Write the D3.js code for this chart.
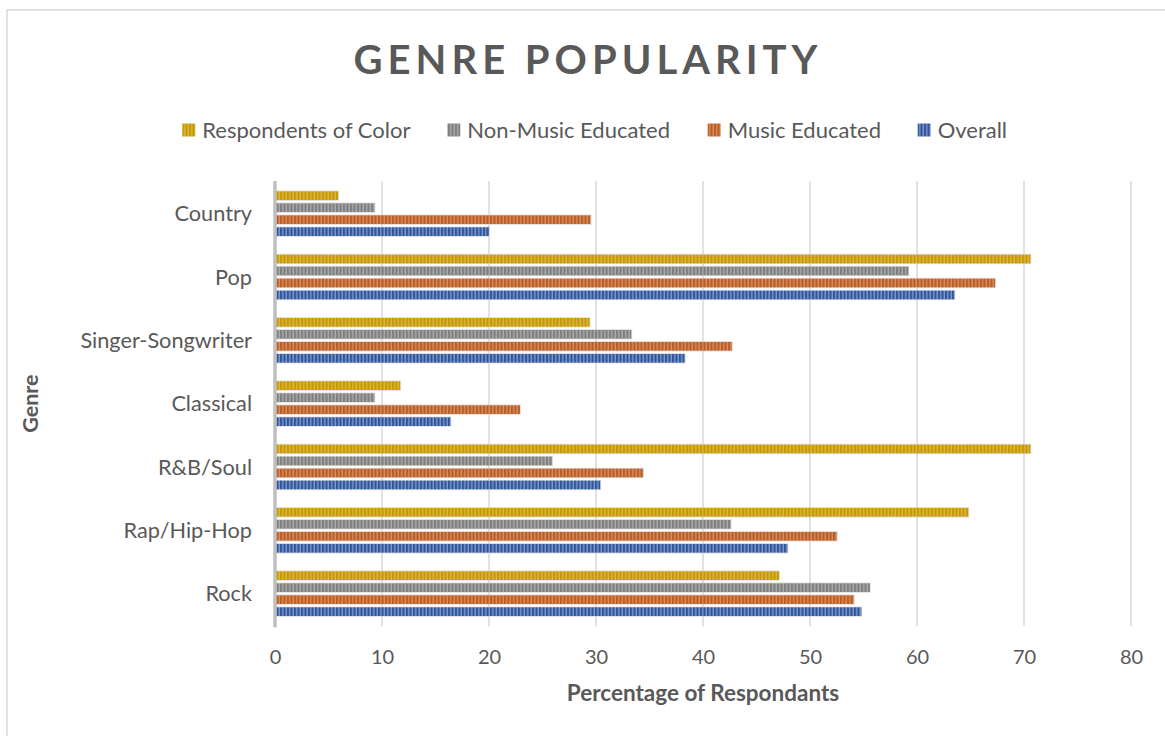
<!DOCTYPE html>
<html>
<head>
<meta charset="utf-8">
<script src="https://cdn.jsdelivr.net/npm/d3@7"></script>
<style>
  html, body { margin: 0; padding: 0; background: #fff; }
  svg { display: block; }
</style>
</head>
<body>
<div id="chart"></div>
<script>
// ---------- DATA ----------
const categories = ["Country", "Pop", "Singer-Songwriter", "Classical", "R&B/Soul", "Rap/Hip-Hop", "Rock"];
const seriesNames = ["Respondents of Color", "Non-Music Educated", "Music Educated", "Overall"];
const respondentsOfColor = [5.9, 70.6, 29.4, 11.7, 70.6, 64.8, 47.1];
const nonMusicEducated   = [9.3, 59.2, 33.3, 9.3, 25.9, 42.6, 55.6];
const musicEducated      = [29.5, 67.3, 42.7, 22.9, 34.4, 52.5, 54.1];
const overall            = [20.0, 63.5, 38.3, 16.4, 30.4, 47.9, 54.8];
const xTicks = [0, 10, 20, 30, 40, 50, 60, 70, 80];
const titleText = "GENRE POPULARITY";
const xTitle = "Percentage of Respondants";
const yTitle = "Genre";

const seriesValues = [respondentsOfColor, nonMusicEducated, musicEducated, overall];
const seriesColors = [
  { dark: "#C49A00", light: "#DDB54A" },
  { dark: "#7F7F7F", light: "#ABABAB" },
  { dark: "#B85E26", light: "#DA8C5C" },
  { dark: "#2F559A", light: "#8099CC" }
];

// ---------- LAYOUT ----------
const W = 1165, H = 736;
const plot = { left: 275, right: 1131, top: 182, bottom: 625.3 };
const textColor = "#595959";
const font = "Lato, 'Open Sans', sans-serif";

const svg = d3.select("#chart").append("svg").attr("width", W).attr("height", H);

// patterns
const defs = svg.append("defs");
seriesColors.forEach((c, i) => {
  const p = defs.append("pattern").attr("id", "pat" + i)
    .attr("patternUnits", "userSpaceOnUse").attr("width", 3.5).attr("height", 10);
  p.append("rect").attr("width", 3.5).attr("height", 10).attr("fill", c.light);
  p.append("rect").attr("width", 2.1).attr("height", 10).attr("fill", c.dark);
});

// chart border
svg.append("rect").attr("x", 7).attr("y", 10).attr("width", 1170).attr("height", 740)
  .attr("fill", "none").attr("stroke", "#D9D9D9").attr("stroke-width", 1.5);

// scales
const x = d3.scaleLinear().domain([0, 80]).range([plot.left, plot.right]);
const y = d3.scaleBand().domain(categories).range([plot.top, plot.bottom]).padding(0);
const span = 44.7;
const yInner = d3.scaleBand().domain(seriesNames)
  .range([(y.bandwidth() - span) / 2, (y.bandwidth() + span) / 2])
  .paddingInner(0.275).paddingOuter(0);

// gridlines
svg.append("g").selectAll("line").data(xTicks.filter(t => t > 0)).join("line")
  .attr("x1", d => x(d)).attr("x2", d => x(d))
  .attr("y1", plot.top - 1).attr("y2", plot.bottom + 1)
  .attr("stroke", "#D9D9D9").attr("stroke-width", 1.5);

// bars
const rows = [];
categories.forEach((cat, ci) => {
  seriesNames.forEach((s, si) => {
    rows.push({ cat, s, si, v: seriesValues[si][ci] });
  });
});
const gBars = svg.append("g");
gBars.selectAll("rect.halo").data(rows).join("rect").attr("class", "halo")
  .attr("x", x(0))
  .attr("y", d => y(d.cat) + yInner(d.s) - 0.8)
  .attr("width", d => x(d.v) - x(0) + 0.8)
  .attr("height", yInner.bandwidth() + 1.6)
  .attr("fill", "#D0D0D0").attr("opacity", 0.7);
gBars.selectAll("rect.bar").data(rows).join("rect").attr("class", "bar")
  .attr("x", x(0))
  .attr("y", d => y(d.cat) + yInner(d.s))
  .attr("width", d => x(d.v) - x(0))
  .attr("height", yInner.bandwidth())
  .attr("fill", d => `url(#pat${d.si})`);

// y axis line
svg.append("line").attr("x1", x(0)).attr("x2", x(0))
  .attr("y1", plot.top - 1).attr("y2", plot.bottom + 2)
  .attr("stroke", "#BFBFBF").attr("stroke-width", 3.5);

// x axis tick labels
const xAxis = d3.axisBottom(x).tickValues(xTicks).tickSize(0).tickPadding(0).tickFormat(d3.format("d"));
const gx = svg.append("g").attr("transform", `translate(0, ${plot.bottom + 32})`).call(xAxis);
gx.select(".domain").remove();
gx.selectAll("text").attr("fill", textColor).attr("font-family", font).attr("font-size", 20)
  .attr("dy", "0.35em").attr("y", 0);

// y axis labels
const yAxis = d3.axisLeft(y).tickSize(0).tickPadding(0);
const gy = svg.append("g").attr("transform", `translate(252, 0)`).call(yAxis);
gy.select(".domain").remove();
gy.selectAll("text").attr("fill", textColor).attr("font-family", font).attr("font-size", 21.7)
  .attr("dy", "0.35em");

// title
svg.append("text").attr("x", 588).attr("y", 74).attr("text-anchor", "middle")
  .attr("font-family", font).attr("font-weight", "bold").attr("font-size", 40)
  .attr("letter-spacing", 5).attr("fill", textColor).text(titleText);

// axis titles
svg.append("text").attr("x", (plot.left + plot.right) / 2).attr("y", 701).attr("text-anchor", "middle")
  .attr("font-family", font).attr("font-weight", "bold").attr("font-size", 22.5)
  .attr("fill", textColor).text(xTitle);
svg.append("text").attr("transform", `translate(38, ${(plot.top + plot.bottom) / 2}) rotate(-90)`)
  .attr("text-anchor", "middle")
  .attr("font-family", font).attr("font-weight", "bold").attr("font-size", 21.5)
  .attr("fill", textColor).text(yTitle);

// legend
const legendX = [182.3, 447.3, 707.7, 917.7];
const gLeg = svg.append("g");
seriesNames.forEach((s, i) => {
  gLeg.append("rect").attr("x", legendX[i]).attr("y", 123.5).attr("width", 13).attr("height", 13)
    .attr("fill", `url(#pat${i})`);
  gLeg.append("text").attr("x", legendX[i] + 20).attr("y", 130).attr("dy", "0.35em")
    .attr("font-family", font).attr("font-size", 22).attr("fill", textColor).text(s);
});
</script>
</body>
</html>
